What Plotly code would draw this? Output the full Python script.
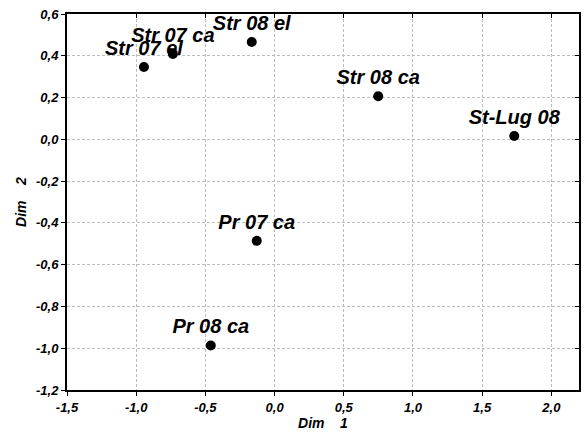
import plotly.graph_objects as go

labels = ["Str 07 el", "Str 07 ca", "Str 08 el", "Str 08 ca", "St-Lug 08", "Pr 07 ca", "Pr 08 ca"]
dim1 = [-0.944, -0.735, -0.165, 0.749, 1.732, -0.129, -0.461]
dim2 = [0.346, 0.409, 0.466, 0.206, 0.016, -0.486, -0.987]

xticks = [-1.5, -1.0, -0.5, 0.0, 0.5, 1.0, 1.5, 2.0]
yticks = [-1.2, -1.0, -0.8, -0.6, -0.4, -0.2, 0.0, 0.2, 0.4, 0.6]


def fmt(v):
    return "<b><i>" + f"{v:.1f}".replace(".", ",") + "</i></b>"


FONT = "Liberation Sans, Arial, sans-serif"
tickfont = dict(family=FONT, size=13, color="black")
titlefont = dict(family=FONT, size=14, color="black")

fig = go.Figure()
fig.add_trace(go.Scatter(
    x=dim1, y=dim2, mode="markers+text",
    text=["<b><i>" + t + "</i></b>" for t in labels],
    textposition="top center",
    textfont=dict(family=FONT, size=20, color="black"),
    marker=dict(color="black", size=10),
    showlegend=False, cliponaxis=False,
))
# overlay axes for inside ticks on top/right
fig.add_trace(go.Scatter(x=[None], y=[None], xaxis="x2", yaxis="y2", showlegend=False))

fig.update_layout(
    width=584, height=432,
    margin=dict(l=67, r=5, t=14, b=42),
    paper_bgcolor="white", plot_bgcolor="white",
    xaxis=dict(
        range=[-1.5, 2.2], tickvals=xticks, ticktext=[fmt(v) for v in xticks],
        showgrid=True, gridcolor="#bdbdbd", griddash="3px,2px", gridwidth=1,
        zeroline=False, showline=True, linecolor="black", linewidth=2,
        ticks="outside", ticklen=4, tickcolor="black", tickwidth=1,
        tickfont=tickfont,
        title=dict(text="<b><i>Dim    1</i></b>", font=titlefont, standoff=4),
    ),
    yaxis=dict(
        range=[-1.2, 0.6], tickvals=yticks, ticktext=[fmt(v) for v in yticks],
        showgrid=True, gridcolor="#bdbdbd", griddash="3px,2px", gridwidth=1,
        zeroline=False, showline=True, linecolor="black", linewidth=2,
        ticks="outside", ticklen=4, tickcolor="black", tickwidth=1,
        tickfont=tickfont,
        title=dict(text="<b><i>Dim    2</i></b>", font=titlefont, standoff=6),
    ),
    xaxis2=dict(
        overlaying="x", side="top", range=[-1.5, 2.2], tickvals=xticks,
        showticklabels=False, showgrid=False, zeroline=False,
        showline=True, linecolor="black", linewidth=2,
        ticks="inside", ticklen=4, tickcolor="black",
    ),
    yaxis2=dict(
        overlaying="y", side="right", range=[-1.2, 0.6], tickvals=yticks,
        showticklabels=False, showgrid=False, zeroline=False,
        showline=True, linecolor="black", linewidth=2,
        ticks="inside", ticklen=4, tickcolor="black",
    ),
)

fig.write_html("out.html")
